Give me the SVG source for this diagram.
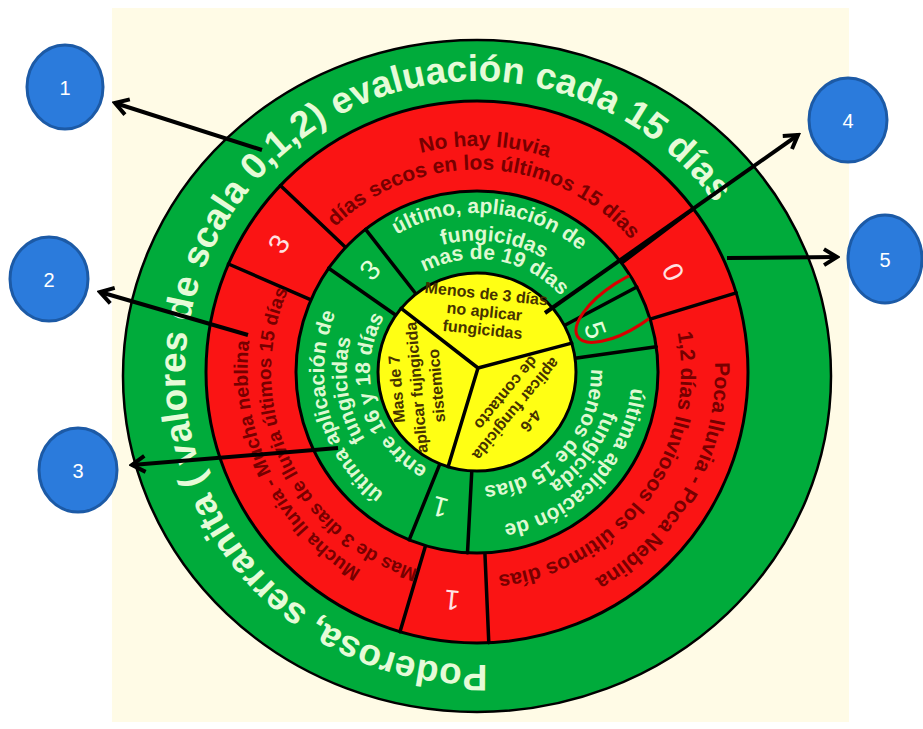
<svg xmlns="http://www.w3.org/2000/svg" width="923" height="729" viewBox="0 0 923 729">
<style>
.ot{font-family:"Liberation Sans",Arial,sans-serif;font-weight:bold;font-size:37px;fill:#e6fbd8}
.rt{font-family:"Liberation Sans",Arial,sans-serif;font-weight:bold;font-size:21px;fill:#760000;text-anchor:middle}
.gt{font-family:"Liberation Sans",Arial,sans-serif;font-weight:bold;font-size:21px;fill:#def9d2;text-anchor:middle}
.yt{font-family:"Liberation Sans",Arial,sans-serif;font-weight:bold;font-size:16px;fill:#463200;text-anchor:middle}
.num{font-family:"Liberation Sans",Arial,sans-serif;font-size:28px;text-anchor:middle;dominant-baseline:central}
.nr{fill:#ffe2e2}.ng{fill:#e4ffdc}
.div{stroke:#000;stroke-width:3.5;fill:none;stroke-linecap:round}
.ring{stroke:#000;stroke-width:3}
.arr{stroke:#000;stroke-width:4;fill:none;marker-end:url(#ah)}
.bub{fill:#2b7bdc;stroke:#1c5aa6;stroke-width:3}
.bt{font-family:"Liberation Sans",Arial,sans-serif;font-size:20px;fill:#fff;text-anchor:middle;dominant-baseline:central}
</style>
<defs>
<marker id="ah" viewBox="0 0 20 20" refX="17" refY="10" markerWidth="20" markerHeight="20" markerUnits="userSpaceOnUse" orient="auto">
<path d="M4,2 L17,10 L4,18" fill="none" stroke="#000" stroke-width="4" stroke-linejoin="miter"/>
</marker>
<clipPath id="greenClip"><circle cx="477" cy="372" r="180"/></clipPath>
<path id="pOuter" d="M487.2,664.8 A292,292 0 1 1 716.2,205.5"/>
<path id="r1" d="M251.1,364.1 A226,226 0 0 1 702.9,379.9"/>
<path id="r2" d="M273.2,363.1 A204,204 0 0 1 680.8,380.9"/>
<path id="r3" d="M579.1,581.4 A233,233 0 0 1 374.9,162.6"/>
<path id="r4" d="M564.1,558.7 A206,206 0 0 1 389.9,185.3"/>
<path id="r5" d="M592.4,163.8 A238,238 0 0 1 361.6,580.2"/>
<path id="r6" d="M599.5,206.4 A206,206 0 0 1 354.5,537.6"/>
<path id="g1" d="M318.6,358.1 A159,159 0 0 1 635.4,385.9"/>
<path id="g2" d="M343.2,354.4 A135,135 0 0 1 610.8,389.6"/>
<path id="g3" d="M365.7,352.4 A113,113 0 0 1 588.3,391.6"/>
<path id="g4" d="M516.6,519.8 A153,153 0 0 1 437.4,224.2"/>
<path id="g5" d="M495.4,502.7 A132,132 0 0 1 458.6,241.3"/>
<path id="g6" d="M507.3,477.7 A110,110 0 0 1 446.7,266.3"/>
<path id="g7" d="M582.7,258.6 A155,155 0 0 1 371.3,485.4"/>
<path id="g8" d="M558.8,263.4 A136,136 0 0 1 395.2,480.6"/>
<path id="g9" d="M554.0,287.9 A114,114 0 0 1 400.0,456.1"/>
</defs>

<rect id="background" x="112" y="8" width="737" height="714" fill="#fffbe6"/>

<g id="ring-outer">
<ellipse cx="477" cy="376" rx="354" ry="336" fill="#00ab3b" stroke="#000" stroke-width="2.5"/>
<text class="ot"><textPath href="#pOuter" textLength="1205" lengthAdjust="spacing">Poderosa, serranita ( valores de scala 0,1,2) evaluación cada 15  días</textPath></text>
</g>

<g id="ring-red">
<circle cx="477" cy="372" r="271" fill="#fa1414" class="ring"/>
<line class="div" x1="311" y1="299.8" x2="228.5" y2="264"/>
<line class="div" x1="345.7" y1="247.4" x2="280.4" y2="185.5"/>
<line class="div" x1="621.6" y1="263.1" x2="693.4" y2="208.9"/>
<line class="div" x1="650.1" y1="319.1" x2="736.2" y2="292.8"/>
<line class="div" x1="484.9" y1="552.8" x2="488.8" y2="642.7"/>
<line class="div" x1="425.6" y1="545.5" x2="400" y2="631.8"/>
</g>

<g id="ring-green">
<circle cx="477" cy="372" r="181" fill="#00ab3b" class="ring"/>
<line class="div" x1="395.9" y1="315.2" x2="328.7" y2="268.2"/>
<line class="div" x1="416" y1="294" x2="365.6" y2="229.4"/>
<line class="div" x1="564.4" y1="325.5" x2="636.8" y2="287"/>
<line class="div" x1="575" y1="358.2" x2="656.2" y2="346.8"/>
<line class="div" x1="471.8" y1="470.9" x2="467.5" y2="552.8"/>
<line class="div" x1="439.9" y1="463.8" x2="409.2" y2="539.8"/>
</g>

<g id="center-yellow">
<circle cx="477" cy="372" r="99" fill="#ffff14" class="ring"/>
<path class="div" d="M478,368 L401.2,308.4 M478,368 L571.7,343.1 M478,368 L448.1,466.7" stroke-width="4"/>
</g>

<g id="highlight" clip-path="url(#greenClip)">
<ellipse cx="628" cy="304" rx="60" ry="24" transform="rotate(-33 628 304)" fill="none" stroke="#d80000" stroke-width="3"/>
</g>

<g id="seg-red-top">
<text class="rt"><textPath href="#r1" startOffset="50%">No hay lluvia</textPath></text>
<text class="rt"><textPath href="#r2" startOffset="50%">días secos en los últimos 15 días</textPath></text>
</g>
<g id="seg-red-left">
<text class="rt" style="font-size:19.5px"><textPath href="#r3" startOffset="50%">Mucha lluvia - Mucha neblina</textPath></text>
<text class="rt" style="font-size:19px"><textPath href="#r4" startOffset="50%">Mas de 3 días de lluvia últimos 15 días</textPath></text>
</g>
<g id="seg-red-right">
<text class="rt"><textPath href="#r5" startOffset="50%">Poca lluvia - Poca Neblina</textPath></text>
<text class="rt"><textPath href="#r6" startOffset="50%">1,2 días lluviosos los últimos días</textPath></text>
</g>
<g id="seg-red-3"><text class="num nr" transform="translate(279,244) rotate(-57)">3</text></g>
<g id="seg-red-0"><text class="num nr" transform="translate(673,272) rotate(63)">0</text></g>
<g id="seg-red-1"><text class="num nr" transform="translate(452,600) rotate(186)">1</text></g>

<g id="seg-green-top">
<text class="gt"><textPath href="#g1" startOffset="50%">último, apliación de</textPath></text>
<text class="gt"><textPath href="#g2" startOffset="50%">fungicidas</textPath></text>
<text class="gt"><textPath href="#g3" startOffset="50%">mas de 19 días</textPath></text>
</g>
<g id="seg-green-left">
<text class="gt"><textPath href="#g4" startOffset="50%">última aplicación de</textPath></text>
<text class="gt"><textPath href="#g5" startOffset="50%">fungicidas</textPath></text>
<text class="gt"><textPath href="#g6" startOffset="50%">entre 16 y 18 días</textPath></text>
</g>
<g id="seg-green-right">
<text class="gt"><textPath href="#g7" startOffset="50%">última aplicación de</textPath></text>
<text class="gt"><textPath href="#g8" startOffset="50%">fungicida</textPath></text>
<text class="gt"><textPath href="#g9" startOffset="50%">menos de 15 días</textPath></text>
</g>
<g id="seg-green-3"><text class="num ng" transform="translate(370,270) rotate(-46)">3</text></g>
<g id="seg-green-5"><text class="num ng" transform="translate(595,330) rotate(70)">5</text></g>
<g id="seg-green-1"><text class="num ng" transform="translate(440,507) rotate(195)">1</text></g>

<g id="yellow-top" transform="translate(484,316) rotate(6)">
<text class="yt" y="-17">Menos de 3 días</text>
<text class="yt" y="1">no aplicar</text>
<text class="yt" y="19">fungicidas</text>
</g>
<g id="yellow-left" transform="translate(421,387) rotate(-95)">
<text class="yt" y="-19">Mas de 7</text>
<text class="yt" y="1">aplicar fujngicida</text>
<text class="yt" y="21">sistemico</text>
</g>
<g id="yellow-right" transform="translate(515,408) rotate(129.5)">
<text class="yt" y="-15">4-6</text>
<text class="yt" y="4">aplicar fungicida</text>
<text class="yt" x="-6" y="22">de contacto</text>
</g>

<g id="connectors">
<line class="arr" x1="262" y1="150" x2="115" y2="103"/>
<line class="arr" x1="248" y1="335" x2="100" y2="292"/>
<line class="arr" x1="338" y1="448" x2="132" y2="465"/>
<line class="arr" x1="545" y1="313" x2="798" y2="135"/>
<line class="arr" x1="727" y1="258" x2="837" y2="257"/>
</g>

<g id="callout-1"><ellipse class="bub" cx="65" cy="87" rx="38" ry="42"/><text class="bt" x="65" y="88">1</text></g>
<g id="callout-2"><ellipse class="bub" cx="49" cy="279" rx="39" ry="42"/><text class="bt" x="49" y="280">2</text></g>
<g id="callout-3"><ellipse class="bub" cx="78" cy="470" rx="39" ry="42"/><text class="bt" x="78" y="471">3</text></g>
<g id="callout-4"><ellipse class="bub" cx="848" cy="120" rx="39" ry="42"/><text class="bt" x="848" y="121">4</text></g>
<g id="callout-5"><ellipse class="bub" cx="885" cy="259" rx="37" ry="44"/><text class="bt" x="885" y="260">5</text></g>
</svg>
